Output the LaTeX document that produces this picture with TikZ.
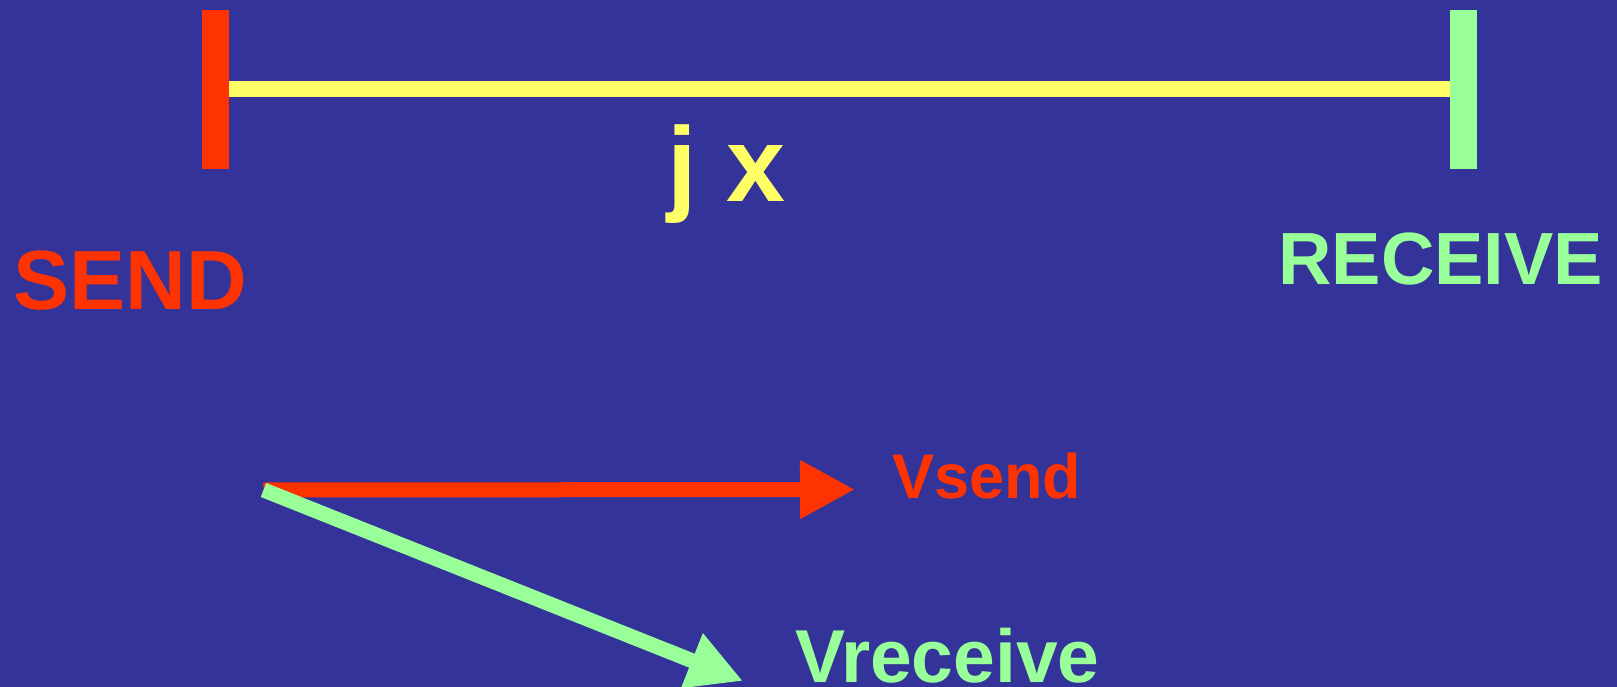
\documentclass[tikz,border=0pt]{standalone}
\usepackage{fontspec}
\setmainfont{Liberation Sans}
\usetikzlibrary{arrows.meta}
\definecolor{bgblue}{RGB}{51,51,153}
\definecolor{sendred}{RGB}{255,51,0}
\definecolor{pathyellow}{RGB}{255,255,102}
\definecolor{recvgreen}{RGB}{153,255,153}
\tikzset{
  endbar/.style={rectangle, inner sep=0pt, minimum width=27pt, minimum height=159pt, fill=#1, draw=none},
  label text/.style 2 args={anchor=base west, inner sep=0pt, text=#1, font=\bfseries\fontsize{#2}{#2}\selectfont},
  vec/.style={draw=#1, line width=15pt, -{Triangle[length=55pt, width=55pt, fill=#1]}}
}
\begin{document}
\begin{tikzpicture}[x=1pt, y=-1pt]
  \useasboundingbox (0,0) rectangle (1617,687);
  \fill[bgblue] (0,0) rectangle (1617,687);

  % the two end stations and the path between them
  \node[endbar=sendred] (sendbar) at (215.5,89.5) {};
  \node[endbar=recvgreen] (recvbar) at (1463.5,89.5) {};
  \draw[pathyellow, line width=16pt] (sendbar.east) -- (recvbar.west);

  \node[label text={pathyellow}{106}] (jx) at (667,202) {j x};
  \node[label text={sendred}{84}] (send) at (13.5,309) {SEND};
  \node[label text={recvgreen}{74}] (receive) at (1278,284) {RECEIVE};

  % velocity vectors from a common origin
  \coordinate (o) at (263.5,490);
  \coordinate (vstip) at (855,489.5);
  \coordinate (vrtip) at (743,681);
  \draw[vec=sendred] (o) -- (vstip);
  \draw[vec=recvgreen] (o) -- (vrtip);

  \node[label text={sendred}{63}] (vsend) at (892,498) {Vsend};
  \node[label text={recvgreen}{75}] (vreceive) at (795,682) {Vreceive};
\end{tikzpicture}
\end{document}
